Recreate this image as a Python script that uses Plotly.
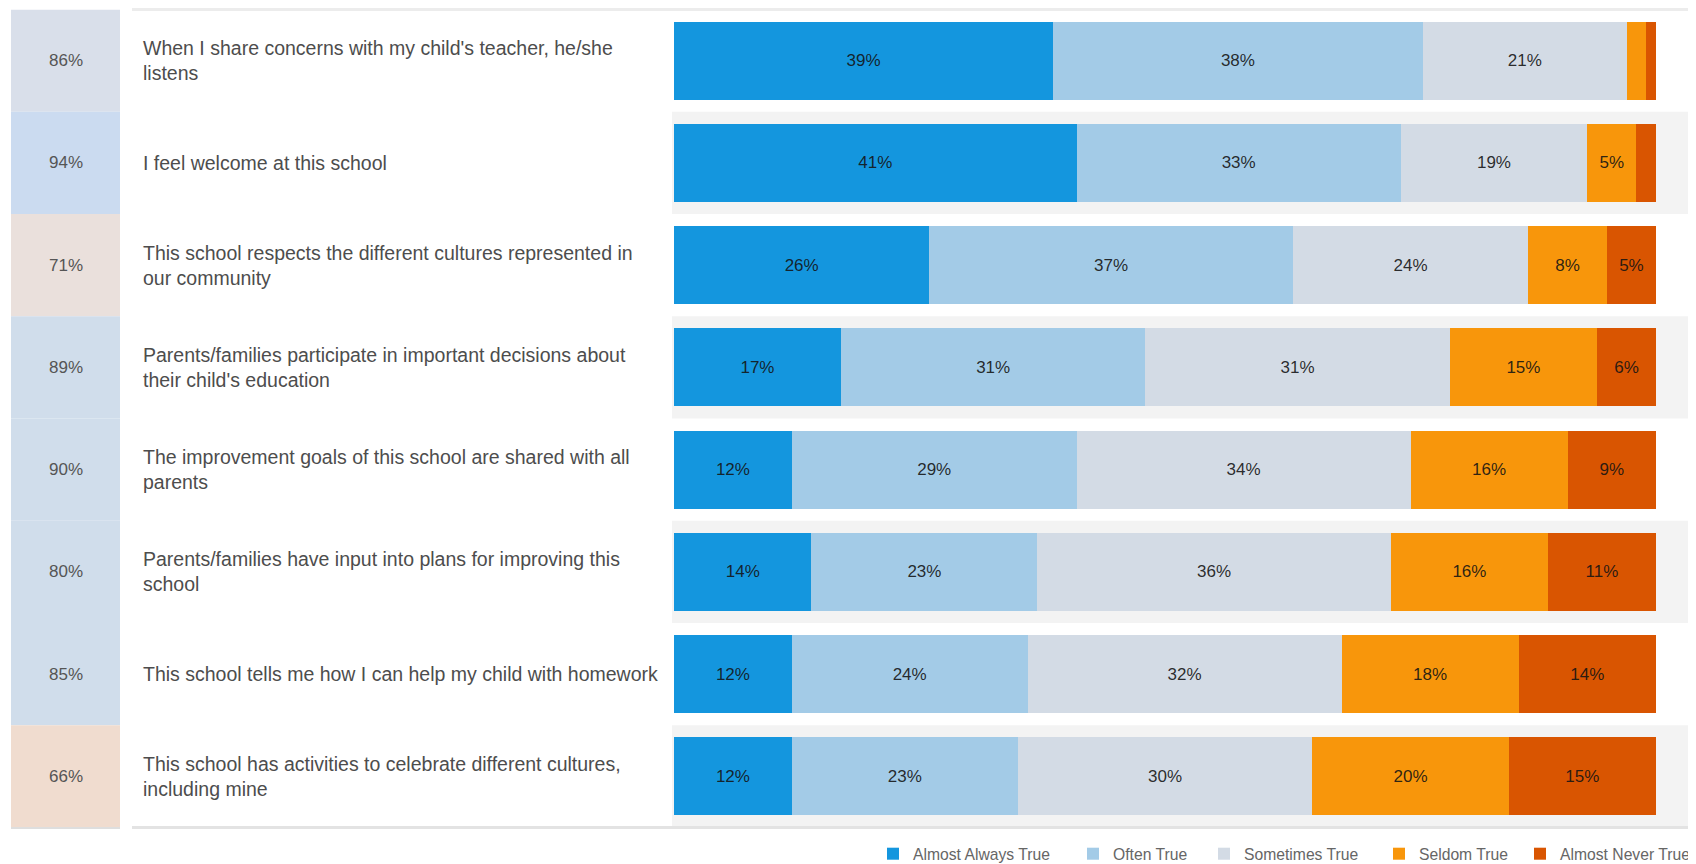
import plotly.graph_objects as go

# page body has an 8px margin: figure occupies screen x 8..1696, y 8..864
OFF = 8
FW, FH = 1688, 856

statements = [
    "When I share concerns with my child's teacher, he/she<br>listens",
    "I feel welcome at this school",
    "This school respects the different cultures represented in<br>our community",
    "Parents/families participate in important decisions about<br>their child's education",
    "The improvement goals of this school are shared with all<br>parents",
    "Parents/families have input into plans for improving this<br>school",
    "This school tells me how I can help my child with homework",
    "This school has activities to celebrate different cultures,<br>including mine",
]
overall = [86, 94, 71, 89, 90, 80, 85, 66]
overall_colors = ["#d9dfea", "#cbdbf0", "#eae0dc", "#d0ddeb", "#d0ddeb", "#d0ddeb", "#d0ddeb", "#f0dccf"]

series_names = ["Almost Always True", "Often True", "Sometimes True", "Seldom True", "Almost Never True"]
almost_always = [39, 41, 26, 17, 12, 14, 12, 12]
often = [38, 33, 37, 31, 29, 23, 24, 23]
sometimes = [21, 19, 24, 31, 34, 36, 32, 30]
seldom = [2, 5, 8, 15, 16, 16, 18, 20]
almost_never = [1, 2, 5, 6, 9, 11, 14, 15]
series_values = [almost_always, often, sometimes, seldom, almost_never]
series_colors = ["#1496de", "#a3cbe7", "#d3dbe5", "#f8960b", "#d95501"]
legend_text_x = [913, 1113, 1244, 1419, 1565]  # screen px of legend text starts

FONT = "Liberation Sans, Arial, sans-serif"


def px(x):
    return (x - OFF) / FW


def py(y):
    return 1 - (y - OFF) / FH


rows = list(range(len(statements)))
fig = go.Figure()

legend_layouts = {}
n_series = len(series_names)
for k, (name, vals, col) in enumerate(zip(series_names, series_values, series_colors)):
    lname = "legend" if k == 0 else f"legend{k + 1}"
    fig.add_trace(go.Bar(
        y=rows, x=vals, name=name, orientation="h", legend=lname,
        marker=dict(color=col, line=dict(width=0)),
        text=[f"{v}%" if v >= 3 else "" for v in vals],
        textposition="inside", insidetextanchor="middle", textangle=0,
        textfont=dict(size=17, color="rgba(20,20,20,0.9)", family=FONT),
        hoverinfo="skip",
    ))
    if k == n_series - 1:
        lx, lanchor = 1, "right"
    else:
        lx, lanchor = px(legend_text_x[k] - 40), "left"
    legend_layouts[lname] = dict(
        orientation="h", x=lx, xanchor=lanchor,
        y=py(854), yanchor="middle",
        font=dict(size=15.7, color="#666666", family=FONT),
        bgcolor="rgba(0,0,0,0)", borderwidth=0,
    )

shapes = []
annotations = []
TOP, BOT = 9.5, 827.5
for i, (stmt, ov, oc) in enumerate(zip(statements, overall, overall_colors)):
    shapes.append(dict(type="rect", xref="paper", yref="y", x0=px(11), x1=px(120),
                       y0=i - 0.5, y1=i + 0.5, fillcolor=oc, line=dict(width=0), layer="below"))
    if i % 2 == 1:
        shapes.append(dict(type="rect", xref="paper", yref="y", x0=px(672), x1=1,
                           y0=i - 0.5, y1=i + 0.5, fillcolor="#f3f3f3", line=dict(width=0), layer="below"))
    annotations.append(dict(xref="paper", yref="y", x=px(66), y=i, text=f"{ov}%",
                            showarrow=False, xanchor="center", yanchor="middle",
                            font=dict(size=17, color="#555555", family=FONT)))
    annotations.append(dict(xref="paper", yref="y", x=px(141), y=i, text=stmt,
                            showarrow=False, xanchor="left", yanchor="middle", align="left",
                            font=dict(size=19.5, color="#4d4d4d", family=FONT)))

# top and bottom rules
shapes.append(dict(type="rect", xref="paper", yref="paper", x0=px(132), x1=1,
                   y0=py(11), y1=py(8), fillcolor="#ececec", line=dict(width=0)))
shapes.append(dict(type="rect", xref="paper", yref="paper", x0=px(132), x1=1,
                   y0=py(829), y1=py(826), fillcolor="#e3e3e3", line=dict(width=0)))
shapes.append(dict(type="rect", xref="paper", yref="paper", x0=px(11), x1=px(120),
                   y0=py(829), y1=py(827), fillcolor="#dedede", line=dict(width=0)))

fig.update_layout(
    width=FW, height=FH,
    margin=dict(l=0, r=0, t=0, b=0, autoexpand=False),
    paper_bgcolor="white", plot_bgcolor="rgba(0,0,0,0)",
    barmode="stack", barnorm="percent", bargap=0.235,
    uniformtext=dict(minsize=16, mode="show"),
    xaxis=dict(domain=[px(674), px(1656)], range=[0, 100], visible=False, fixedrange=True),
    yaxis=dict(domain=[py(BOT), py(TOP)], range=[7.5, -0.5], visible=False, fixedrange=True),
    shapes=shapes, annotations=annotations,
    showlegend=True,
    **legend_layouts,
)

fig.write_html("out.html")
